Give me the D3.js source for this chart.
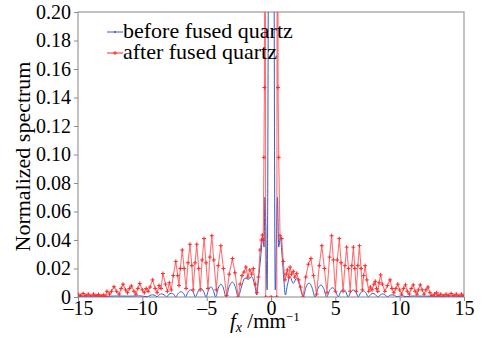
<!DOCTYPE html>
<html>
<head>
<meta charset="utf-8">
<script src="https://cdn.jsdelivr.net/npm/d3@7"></script>
<style>
	body { margin: 0; background: #fff; }
	.axis path, .axis line { stroke: #8c8c8c; }
</style>
</head>
<body>
<div id="chart"></div>
<script>

// spatial frequency (mm^-1) and normalized spectrum
var seriesNames = ["before fused quartz", "after fused quartz"];

var beforeFx = [-15, -14, -13, -12, -11, -10.2, -9.6, -9.4, -9.2, -9.0, -8.85, -8.7, -8.5, -8.3, -8.1,
	-7.95, -7.75, -7.55, -7.4, -7.2, -7.0, -6.8, -6.65, -6.45, -6.25, -6.05, -5.88, -5.65, -5.45, -5.25,
	-5.05, -4.85, -4.68, -4.5, -4.3, -4.1, -3.9, -3.7, -3.5, -3.25, -3.0, -2.78, -2.55, -2.3, -2.02,
	-1.76, -1.5, -1.24, -1.11, -0.98, -0.8, -0.65, -0.54, -0.47, -0.3, -0.14, 0, 0.17, 0.33, 0.5,
	0.6, 0.72, 0.87, 1.0, 1.12, 1.25, 1.48, 1.73, 2.0, 2.25, 2.5, 2.72, 2.95, 3.18, 3.42,
	3.65, 3.88, 4.1, 4.33, 4.55, 4.78, 5.0, 5.23, 5.42, 5.6, 5.8, 6.0, 6.2, 6.4, 6.6,
	6.78, 6.97, 7.17, 7.37, 7.56, 7.75, 7.93, 8.1, 8.3, 8.5, 8.68, 8.86, 9.05, 9.22, 9.4,
	9.6, 9.8, 10.15, 10.5, 11, 12, 13, 14, 15];
var beforeVal = [0.0005, 0.0006, 0.0005, 0.0007, 0.0006, 0.0008, 0.0002, 0.0011, 0.0015, 0.0011, 0.0001, 0.0015, 0.0022, 0.0015, 0.0001,
	0.0018, 0.0026, 0.0018, 0.0001, 0.0026, 0.0037, 0.0026, 0.0001, 0.0035, 0.005, 0.0035, 0.0001, 0.0042, 0.006, 0.0042,
	0.0001, 0.005, 0.0072, 0.005, 0.0001, 0.0063, 0.009, 0.0063, 0.0001, 0.0073, 0.0105, 0.0073, 0.0001, 0.007, 0.0133,
	0.0124, 0.0142, 0.0072, 0.0014, 0.012, 0.028, 0.042, 0.035, 0.07, 0.005, 0.5, 1.0, 0.5, 0.005, 0.07,
	0.035, 0.042, 0.028, 0.012, 0.0014, 0.0072, 0.0142, 0.0096, 0.0133, 0.007, 0.0001, 0.0069, 0.0098, 0.0069, 0.0001,
	0.0059, 0.0084, 0.0059, 0.0001, 0.0046, 0.0065, 0.0046, 0.0001, 0.0039, 0.0056, 0.0039, 0.0001, 0.0035, 0.005, 0.0035,
	0.0001, 0.003, 0.0042, 0.003, 0.0001, 0.0018, 0.0026, 0.0018, 0.0001, 0.0015, 0.0022, 0.0015, 0.0001, 0.0011, 0.0015,
	0.0011, 0.0001, 0.001, 0.0002, 0.0007, 0.0006, 0.0005, 0.0006, 0.0005];

var afterFx = [-15.0, -14.8, -14.6, -14.4, -14.2, -14.0, -13.8, -13.6, -13.4, -13.2, -13.0, -12.85, -12.75, -12.55, -12.4,
	-12.2, -12.0, -11.8, -11.65, -11.5, -11.3, -11.15, -11.0, -10.85, -10.65, -10.5, -10.35, -10.2, -10.0, -9.85,
	-9.7, -9.55, -9.4, -9.2, -9.0, -8.85, -8.7, -8.55, -8.4, -8.2, -8.05, -7.9, -7.75, -7.6, -7.4,
	-7.25, -7.15, -7.05, -6.9, -6.75, -6.6, -6.45, -6.3, -6.15, -6.05, -5.9, -5.77, -5.62, -5.5, -5.35,
	-5.2, -5.05, -4.9, -4.75, -4.6, -4.45, -4.25, -4.1, -3.9, -3.7, -3.45, -3.25, -3.0, -2.8, -2.55,
	-2.4, -2.25, -2.1, -1.95, -1.8, -1.65, -1.5, -1.37, -1.22, -1.1, -0.98, -0.85, -0.75, -0.67, -0.6,
	-0.55, -0.51, -0.47, -0.41, 0, 0.45, 0.51, 0.55, 0.6, 0.7, 0.83, 0.95, 1.09, 1.18, 1.27,
	1.38, 1.48, 1.6, 1.73, 1.85, 2.0, 2.15, 2.3, 2.5, 2.7, 2.9, 3.1, 3.3, 3.55, 3.75,
	3.95, 4.15, 4.35, 4.55, 4.71, 4.85, 5.0, 5.15, 5.31, 5.45, 5.6, 5.75, 5.88, 6.02, 6.15,
	6.28, 6.4, 6.52, 6.63, 6.75, 6.87, 7.0, 7.1, 7.2, 7.32, 7.45, 7.6, 7.72, 7.85, 8.0,
	8.1, 8.2, 8.3, 8.4, 8.52, 8.65, 8.85, 9.05, 9.25, 9.4, 9.55, 9.7, 9.85, 10.0, 10.15,
	10.3, 10.45, 10.6, 10.75, 10.9, 11.06, 11.2, 11.35, 11.45, 11.6, 11.75, 11.9, 12.05, 12.2, 12.35,
	12.5, 12.7, 12.87, 13.0, 13.2, 13.4, 13.6, 13.8, 14.0, 14.2, 14.4, 14.6, 14.8, 15.0];
var afterVal = [0.002, 0.001, 0.0025, 0.001, 0.002, 0.0008, 0.002, 0.001, 0.0018, 0.0008, 0.0015, 0.0005, 0.004, 0.002, 0.004,
	0.0072, 0.004, 0.002, 0.006, 0.009, 0.005, 0.003, 0.006, 0.0078, 0.004, 0.002, 0.006, 0.0095, 0.005, 0.003,
	0.006, 0.004, 0.007, 0.012, 0.006, 0.003, 0.008, 0.006, 0.0165, 0.009, 0.004, 0.01, 0.005, 0.015, 0.025,
	0.015, 0.008, 0.02, 0.033, 0.02, 0.006, 0.024, 0.037, 0.022, 0.005, 0.024, 0.037, 0.02, 0.005, 0.026,
	0.041, 0.024, 0.006, 0.028, 0.043, 0.026, 0.005, 0.022, 0.036, 0.02, 0.001, 0.016, 0.027, 0.017, 0.0,
	0.009, 0.015, 0.0175, 0.021, 0.014, 0.019, 0.016, 0.02, 0.009, 0.003, 0.014, 0.033, 0.04, 0.0435, 0.04,
	0.098, 0.147, 0.6, 0.0, 0.0, 0.0, 0.6, 0.147, 0.098, 0.043, 0.041, 0.025, 0.012, 0.016, 0.019,
	0.014, 0.021, 0.016, 0.018, 0.014, 0.0166, 0.012, 0.007, 0.0, 0.014, 0.023, 0.027, 0.015, 0.002, 0.022,
	0.036, 0.02, 0.003, 0.028, 0.043, 0.026, 0.004, 0.026, 0.041, 0.024, 0.004, 0.022, 0.035, 0.02, 0.004,
	0.022, 0.035, 0.02, 0.004, 0.022, 0.036, 0.02, 0.005, 0.015, 0.022, 0.012, 0.004, 0.007, 0.005, 0.009,
	0.011, 0.006, 0.004, 0.01, 0.0155, 0.009, 0.004, 0.008, 0.012, 0.006, 0.003, 0.006, 0.009, 0.005, 0.002,
	0.006, 0.0085, 0.004, 0.002, 0.006, 0.0085, 0.004, 0.002, 0.005, 0.0085, 0.005, 0.002, 0.005, 0.007, 0.003,
	0.001, 0.002, 0.003, 0.001, 0.002, 0.0008, 0.002, 0.001, 0.0025, 0.001, 0.002, 0.0008, 0.002, 0.001];

var xTicks = [-15, -10, -5, 0, 5, 10, 15];
var yTicks = [0, 0.02, 0.04, 0.06, 0.08, 0.10, 0.12, 0.14, 0.16, 0.18, 0.20];

var colors = ["#3a5cc4", "#ff2a2a"];
var serif = "'Liberation Serif', 'DejaVu Serif', serif";

var margin = { top: 12, right: 28, bottom: 50, left: 78 };
var width = 492 - margin.left - margin.right,
	height = 347 - margin.top - margin.bottom;

var svg = d3.select("#chart").append("svg")
	.attr("width", 492)
	.attr("height", 347)
	.append("g")
	.attr("transform", "translate(" + margin.left + "," + margin.top + ")");

svg.append("defs").append("clipPath")
	.attr("id", "clip")
	.append("rect")
	.attr("width", width)
	.attr("height", height);

// Scales and axes
var x = d3.scaleLinear().domain([-15, 15]).range([0, width]);
var y = d3.scaleLinear().domain([0, 0.2]).range([height, 0]);

var minus = function (v) { return v < 0 ? "\u2013" + Math.abs(v) : "" + v; };

var xAxis = d3.axisBottom(x).tickValues(xTicks).tickSize(4).tickPadding(0)
	.tickFormat(minus);
var yAxis = d3.axisLeft(y).tickValues(yTicks).tickSize(4).tickPadding(3)
	.tickFormat(function (d) { return d === 0 ? "0" : d3.format(".2f")(d); });

// frame
svg.append("rect")
	.attr("width", width)
	.attr("height", height)
	.attr("fill", "none")
	.attr("stroke", "#9a9a9a")
	.attr("stroke-width", 1.2);

svg.append("g")
	.attr("class", "x-axis axis")
	.attr("transform", "translate(0," + height + ")")
	.call(xAxis);

svg.append("g")
	.attr("class", "y-axis axis")
	.call(yAxis);

svg.selectAll(".axis .domain").remove();
svg.selectAll(".axis text")
	.style("font-family", serif)
	.style("font-size", "20px")
	.style("fill", "#000");

var before = beforeFx.map(function (f, i) { return { f: f, v: beforeVal[i] }; });
var after = afterFx.map(function (f, i) { return { f: f, v: afterVal[i] }; });

var plot = svg.append("g").attr("clip-path", "url(#clip)");

var smoothLine = d3.line()
	.x(function (d) { return x(d.f); })
	.y(function (d) { return y(d.v); })
	.curve(d3.curveMonotoneX);

var line = d3.line()
	.x(function (d) { return x(d.f); })
	.y(function (d) { return y(d.v); });

plot.append("path")
	.datum(before)
	.attr("fill", "none")
	.attr("stroke", colors[0])
	.attr("stroke-width", 1)
	.attr("d", smoothLine);

plot.append("path")
	.datum(after)
	.attr("fill", "none")
	.attr("stroke", "#ff4d4d")
	.attr("stroke-opacity", 0.8)
	.attr("stroke-width", 1.1)
	.attr("d", line);

var plus = "M-2,0H2M0,-2V2";

plot.selectAll(".mark")
	.data(after)
	.enter().append("path")
	.attr("class", "mark")
	.attr("transform", function (d) { return "translate(" + x(d.f) + "," + y(d.v) + ")"; })
	.attr("d", plus)
	.attr("stroke", colors[1])
	.attr("stroke-width", 1);

// legend
var legend = svg.append("g")
	.attr("class", "legend")
	.attr("transform", "translate(29,20)");

seriesNames.forEach(function (name, i) {
	var g = legend.append("g").attr("transform", "translate(0," + (i * 21) + ")");
	g.append("line")
		.attr("x1", 0).attr("x2", 16)
		.attr("stroke", colors[i])
		.attr("stroke-width", 1);
	g.append("path")
		.attr("transform", "translate(8,0)")
		.attr("d", i === 0 ? "M-1,0H1M0,-1V1" : plus)
		.attr("stroke", colors[i]);
	g.append("text")
		.attr("x", 16)
		.attr("y", 6)
		.style("font-family", serif)
		.style("font-size", "22px")
		.text(name);
});

// labels
svg.append("text")
	.attr("text-anchor", "middle")
	.attr("transform", "translate(-48," + (height / 2 + 2) + ") rotate(-90)")
	.style("font-family", serif)
	.style("font-size", "22px")
	.text("Normalized spectrum");

var xl = svg.append("text")
	.attr("x", 152)
	.attr("y", height + 31)
	.style("font-family", serif)
	.style("font-size", "21px");
xl.append("tspan").style("font-style", "italic").text("f");
xl.append("tspan").style("font-style", "italic").style("font-size", "14px").attr("dy", 4).text("x");
xl.append("tspan").attr("dy", -4).text(" /mm");
xl.append("tspan").style("font-size", "13px").attr("dy", -7).text("\u22121");

</script>
</body>
</html>
